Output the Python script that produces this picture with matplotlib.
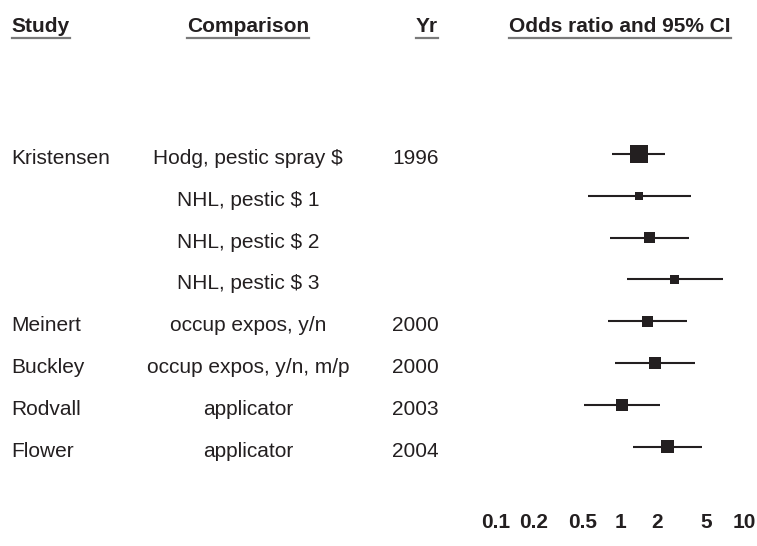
import matplotlib
matplotlib.use("Agg")
import matplotlib.pyplot as plt
from matplotlib.lines import Line2D
import matplotlib.transforms as mtransforms

# ---- data ----
studies = ["Kristensen", "", "", "", "Meinert", "Buckley", "Rodvall", "Flower"]
comparisons = ["Hodg, pestic spray $", "NHL, pestic $ 1", "NHL, pestic $ 2",
               "NHL, pestic $ 3", "occup expos, y/n", "occup expos, y/n, m/p",
               "applicator", "applicator"]
years = ["1996", "", "", "", "2000", "2000", "2003", "2004"]
odds_ratio = [1.41, 1.42, 1.72, 2.76, 1.66, 1.92, 1.04, 2.41]
ci_lower = [0.86, 0.555, 0.83, 1.145, 0.80, 0.91, 0.51, 1.265]
ci_upper = [2.31, 3.74, 3.60, 6.73, 3.45, 4.00, 2.10, 4.56]
weights = [18, 8.3, 11.3, 9.3, 11.3, 11.3, 12, 13.3]
tick_values = [0.1, 0.2, 0.5, 1, 2, 5, 10]
tick_labels = ["0.1", "0.2", "0.5", "1", "2", "5", "10"]
headers = ["Study", "Comparison", "Yr", "Odds ratio and 95% CI"]

# ---- style ----
plt.rcParams['font.family'] = ['Liberation Sans', 'DejaVu Sans']
FS = 15
DARK = "#231f20"
W, H, DPI = 7.57, 5.46, 100

fig = plt.figure(figsize=(W, H), dpi=DPI)
fig.patch.set_facecolor("white")
bottom_px = 505
ax = fig.add_axes([0, (546 - bottom_px) / 546, 1, bottom_px / 546])
ax.set_xscale("log")
ax.set_xlim(10 ** (-620 / 124), 10 ** (137 / 124))
row_px0, row_step = 154, 41.8
ax.set_ylim((bottom_px - row_px0) / row_step, -row_px0 / row_step)
for s in ax.spines.values():
    s.set_visible(False)
ax.set_yticks([])
ax.set_xticks(tick_values)
ax.set_xticklabels(tick_labels, fontsize=FS, fontweight="bold", color=DARK)
ax.xaxis.set_minor_locator(matplotlib.ticker.NullLocator())
ax.tick_params(axis="x", length=0, pad=5.8)

rows = list(range(len(odds_ratio)))
ax.hlines(rows, ci_lower, ci_upper, color=DARK, linewidth=1.5)
ax.scatter(odds_ratio, rows, marker="s", s=[(w * 0.72) ** 2 for w in weights],
           color=DARK, zorder=3, linewidths=0)

# text columns (x in axes fraction == figure px / 757)
tx = mtransforms.blended_transform_factory(ax.transAxes, ax.transData)
base_off = 10 / row_step
col_study, col_comp, col_year = 11.7 / 757, 248 / 757, 439 / 757
for i in rows:
    y = i + base_off
    if studies[i]:
        ax.text(col_study, y, studies[i], transform=tx, ha="left", va="baseline",
                fontsize=FS, color=DARK)
    ax.text(col_comp, y, comparisons[i], transform=tx, ha="center", va="baseline",
            fontsize=FS, color=DARK)
    if years[i]:
        ax.text(col_year, y, years[i], transform=tx, ha="right", va="baseline",
                fontsize=FS, color=DARK)

# headers
hy = (31.7 - row_px0) / row_step
hdr = []
hdr.append(ax.text(col_study, hy, headers[0], transform=tx, ha="left", va="baseline",
                   fontsize=FS, fontweight="bold", color=DARK))
hdr.append(ax.text(col_comp, hy, headers[1], transform=tx, ha="center", va="baseline",
                   fontsize=FS, fontweight="bold", color=DARK))
hdr.append(ax.text(438 / 757, hy, headers[2], transform=tx, ha="right", va="baseline",
                   fontsize=FS, fontweight="bold", color=DARK))
hdr.append(ax.text(1, hy, headers[3], transform=ax.transData, ha="center", va="baseline",
                   fontsize=FS, fontweight="bold", color=DARK))

fig.canvas.draw()
renderer = fig.canvas.get_renderer()
under_y = 1 - 38.3 / 546
for t in hdr:
    bb = t.get_window_extent(renderer)
    x0, x1 = bb.x0 / fig.bbox.width, bb.x1 / fig.bbox.width
    fig.add_artist(Line2D([x0, x1], [under_y, under_y], transform=fig.transFigure,
                          color="#7a7a7a", linewidth=1.6))

fig.savefig("out.png", dpi=DPI)
